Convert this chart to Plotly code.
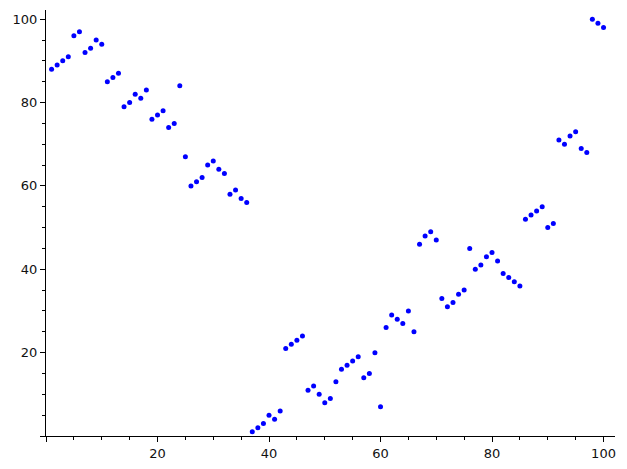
import plotly.graph_objects as go

positions = list(range(1, 101))
values = [88, 89, 90, 91, 96, 97, 92, 93, 95, 94,
          85, 86, 87, 79, 80, 82, 81, 83, 76, 77,
          78, 74, 75, 84, 67, 60, 61, 62, 65, 66,
          64, 63, 58, 59, 57, 56, 1, 2, 3, 5,
          4, 6, 21, 22, 23, 24, 11, 12, 10, 8,
          9, 13, 16, 17, 18, 19, 14, 15, 20, 7,
          26, 29, 28, 27, 30, 25, 46, 48, 49, 47,
          33, 31, 32, 34, 35, 45, 40, 41, 43, 44,
          42, 39, 38, 37, 36, 52, 53, 54, 55, 50,
          51, 71, 70, 72, 73, 69, 68, 100, 99, 98]

tick_vals = [0, 20, 40, 60, 80, 100]
tick_text = ["", "20", "40", "60", "80", "100"]

fig = go.Figure()
fig.add_trace(go.Scatter(
    x=positions, y=values, mode="markers",
    marker=dict(color="#0000ff", size=5, line=dict(width=0)),
    showlegend=False, cliponaxis=False,
))

axis_common = dict(
    showgrid=False, zeroline=False, showline=True, linecolor="black", linewidth=1,
    ticks="outside", ticklen=5, tickwidth=1, tickcolor="black",
    tickvals=tick_vals, ticktext=tick_text, automargin=False,
    tickfont=dict(family="DejaVu Sans", size=13, color="#111"),
    minor=dict(dtick=5, tick0=0, ticks="outside", ticklen=3, tickwidth=1, tickcolor="black", showgrid=False),
)

# page body has an 8px default margin, so the figure is shifted accordingly
fig.update_layout(
    width=619, height=461,
    margin=dict(l=38, r=12, t=2, b=33),
    paper_bgcolor="white", plot_bgcolor="white",
    xaxis=dict(range=[0, 102.06], **axis_common),
    yaxis=dict(range=[0, 102.2], **axis_common),
)

fig.write_html("out.html")
